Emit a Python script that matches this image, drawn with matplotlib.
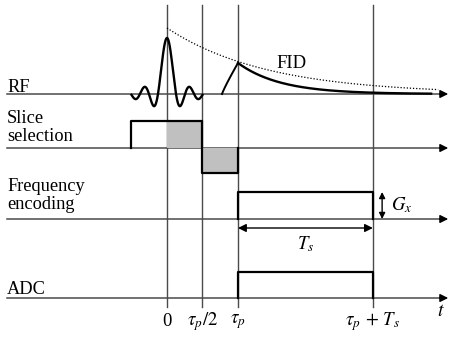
import numpy as np
import matplotlib
matplotlib.use("Agg")
import matplotlib.pyplot as plt

plt.rcParams['font.family'] = ['Liberation Serif', 'DejaVu Serif']
plt.rcParams['mathtext.fontset'] = 'stix'

# timing (units of tau_p)
tau_p = 1.0
T_s = 1.9
t_marks = [0.0, tau_p / 2, tau_p, tau_p + T_s]
t_labels = ['0', r'$\tau_p/2$', r'$\tau_p$', r'$\tau_p\,+\,T_s$']

# channel rows (baseline heights) and names
channels = ['RF', 'Slice\nselection', 'Frequency\nencoding', 'ADC']
baselines = [244, 190, 119, 40]

# pulse amplitudes
rf_peak = 56
rf_zero = 0.127          # sinc zero spacing
slice_amp = 27
slice_rephase = -25
gx_amp = 27
adc_amp = 26
fid_peak = 31
fid_decay = 0.6
fid_rise_start = 0.775
env_amp = 66
env_decay = 1.41
t_end = 3.72

fig = plt.figure(figsize=(4.5, 3.38), dpi=100)
ax = fig.add_axes([0, 0, 1, 1])
ax.set_xlim(-2.352, 3.986)
ax.set_ylim(0, 338)
ax.axis('off')

gray = '#4a4a4a'
x_left = -2.25
x_arrow = 3.96

# vertical time markers
for tm in t_marks:
    ax.plot([tm, tm], [31, 333], color=gray, lw=1.0, zorder=1)

# channel axes with arrows
for b in baselines:
    ax.plot([x_left, x_arrow - 0.1], [b, b], color=gray, lw=1.1, zorder=1)
    ax.annotate('', xy=(x_arrow, b), xytext=(x_arrow - 0.12, b),
                arrowprops=dict(arrowstyle='-|>', color='k', lw=1.0,
                                mutation_scale=12, shrinkA=0, shrinkB=0))

# channel labels
label_tops = [259, 228, 160, 57]
for name, yt in zip(channels, label_tops):
    ax.text(x_left, yt, name, fontsize=13.2, ha='left', va='top',
            linespacing=1.1)

# RF sinc pulse
b_rf = baselines[0]
t = np.linspace(-0.5, 0.5, 400)
ax.plot(t, b_rf + rf_peak * np.sinc(t / rf_zero), color='k', lw=1.7, zorder=3)

# FID rise + decay
tr = np.linspace(fid_rise_start, tau_p, 50)
s = (tr - fid_rise_start) / (tau_p - fid_rise_start)
ax.plot(tr, b_rf + fid_peak * s ** 0.9, color='k', lw=1.4, zorder=3)
td = np.linspace(tau_p, t_end, 300)
ax.plot(td, b_rf + fid_peak * np.exp(-(td - tau_p) / fid_decay),
        color='k', lw=1.7, zorder=3)
# T2* envelope
te = np.linspace(0, t_end + 0.1, 300)
ax.plot(te, b_rf + env_amp * np.exp(-te / env_decay), color='k', lw=0.9,
        ls=(0, (1, 1.5)), zorder=2)
ax.text(1.75, 275, 'FID', fontsize=13.5, ha='center', va='center')

# slice selection gradient
b_sl = baselines[1]
ax.fill_between([0, tau_p / 2], b_sl, b_sl + slice_amp, color='#c0c0c0',
                lw=0, zorder=2)
ax.fill_between([tau_p / 2, tau_p], b_sl + slice_rephase, b_sl,
                color='#c0c0c0', lw=0, zorder=2)
ax.plot([-0.5, -0.5, 0.5, 0.5, tau_p, tau_p],
        [b_sl, b_sl + slice_amp, b_sl + slice_amp, b_sl + slice_rephase,
         b_sl + slice_rephase, b_sl], color='k', lw=1.6, zorder=3)

# frequency encoding gradient
b_fe = baselines[2]
ax.plot([tau_p, tau_p, tau_p + T_s, tau_p + T_s],
        [b_fe, b_fe + gx_amp, b_fe + gx_amp, b_fe], color='k', lw=1.6, zorder=3)
ax.annotate('', xy=(tau_p + T_s + 0.13, b_fe + gx_amp),
            xytext=(tau_p + T_s + 0.13, b_fe),
            arrowprops=dict(arrowstyle='<|-|>', color='k', lw=1.0,
                            mutation_scale=9, shrinkA=0, shrinkB=0))
ax.text(tau_p + T_s + 0.25, b_fe + gx_amp / 2, r'$G_x$', fontsize=13.5,
        ha='left', va='center')
ax.annotate('', xy=(tau_p + T_s, 110), xytext=(tau_p, 110),
            arrowprops=dict(arrowstyle='<|-|>', color='k', lw=1.0,
                            mutation_scale=12, shrinkA=0, shrinkB=0))
ax.text(tau_p + T_s / 2, 94, r'$T_s$', fontsize=13.5, ha='center', va='center')

# ADC
b_adc = baselines[3]
ax.plot([tau_p, tau_p, tau_p + T_s, tau_p + T_s],
        [b_adc, b_adc + adc_amp, b_adc + adc_amp, b_adc], color='k', lw=1.6,
        zorder=3)

# time labels
for tm, lab in zip(t_marks, t_labels):
    ax.text(tm, 16, lab, fontsize=13.5, ha='center', va='center')
ax.text(3.86, 27, r'$t$', fontsize=14, ha='center', va='center')

fig.savefig('out.png', dpi=100)
